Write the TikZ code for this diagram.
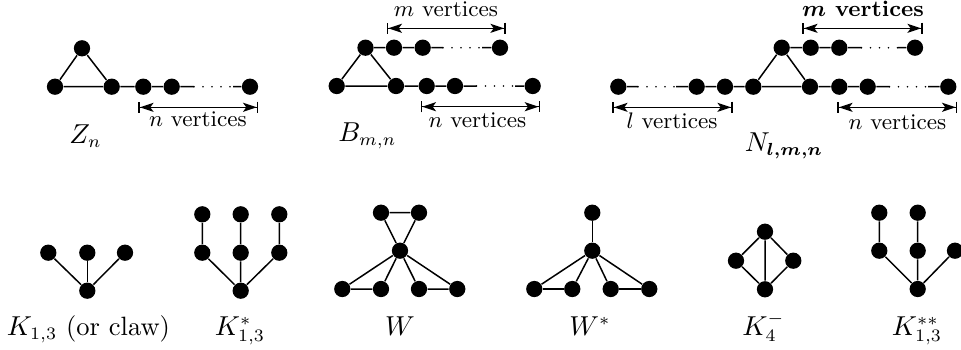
\documentclass[tikz,border=0pt]{standalone}
\usepackage{tikz}
\usetikzlibrary{arrows.meta,positioning,calc}
\usepackage{amsmath,bm}

\tikzset{
  vtx/.style={circle, fill=black, inner sep=0pt, minimum size=6.5pt},
  edge/.style={line width=0.6pt},
  gap/.style={line width=0.7pt, line cap=round, dash pattern=on 0pt off 3.6pt},
  span/.style={line width=0.6pt, {Bar[width=4.5pt]Stealth[length=5.5pt,width=3.6pt,inset=1.3pt]}-{Stealth[length=5.5pt,width=3.6pt,inset=1.3pt]Bar[width=4.5pt]}},
  cnt/.style={font=\small, anchor=base, inner sep=0pt},
  gname/.style={font=\fontsize{10.6}{12}\selectfont, anchor=base, inner sep=0pt}
}

\begin{document}
\begin{tikzpicture}[x=0.4pt, y=-0.4pt]
  \useasboundingbox (0,0) rectangle (961,349);

  % Z_n
  \foreach \nm/\xx/\yy in {z1/55/86.7, z2/82/48.3, z3/111.7/86.7, z4/143.3/86.7, z5/171.7/86.7, z6/250/86.7}
    \node[vtx] (\nm) at (\xx,\yy) {};
  \coordinate (zg1) at (194,86.7);
  \coordinate (zg2) at (233,86.7);
  \draw[edge] (z1) -- (z2) -- (z3) -- (z1) (z3) -- (z4) -- (z5) -- (zg1) (zg2) -- (z6);
  \draw[gap] (zg1) -- (zg2);
  \coordinate (za) at (138.3,107.3);
  \coordinate (zb) at (258.3,107.3);
  \draw[span] (za) -- (zb);
  \node[cnt] (zcnt) at (198,126) {$n$ vertices};
  \node[gname] (zname) at (85.5,143) {$Z_n$};

  % B_{m,n}
  \foreach \nm/\xx/\yy in {b1/336.7/86, b2/365.5/47.7, b3/396/86, b4/394/47.7, b5/422.7/47.7, b6/500/47.7,
                           b7/426.7/86, b8/455/86, b9/532.7/86}
    \node[vtx] (\nm) at (\xx,\yy) {};
  \coordinate (bg1) at (443,47.7);
  \coordinate (bg2) at (482,47.7);
  \coordinate (bg3) at (476.5,86);
  \coordinate (bg4) at (515,86);
  \draw[edge] (b1) -- (b2) -- (b3) -- (b1) (b2) -- (b4) -- (b5) -- (bg1) (bg2) -- (b6)
              (b3) -- (b7) -- (b8) -- (bg3) (bg4) -- (b9);
  \draw[gap] (bg1) -- (bg2) (bg3) -- (bg4);
  \coordinate (ba) at (386.7,28.3);
  \coordinate (bb) at (505.7,28.3);
  \coordinate (bc) at (420.7,106.7);
  \coordinate (bd) at (540,106.7);
  \draw[span] (ba) -- (bb);
  \draw[span] (bc) -- (bd);
  \node[cnt] (bmcnt) at (446,16.5) {$m$ vertices};
  \node[cnt] (bncnt) at (477.5,127.5) {$n$ vertices};
  \node[gname] (bname) at (367.5,141.5) {$B_{m,n}$};

  % N_{l,m,n}
  \foreach \nm/\xx/\yy in {l1/618.3/86.7, l2/696.7/86.7, l3/725/86.7, t1/753.3/86.7, t2/781.7/47.7, t3/810/86.7,
                           r1/839.3/86.7, r2/867.7/86.7, r3/948.3/86.7, u1/810.7/47.7, u2/839.3/47.7, u3/915/47.7}
    \node[vtx] (\nm) at (\xx,\yy) {};
  \coordinate (ng1) at (638,86.7);
  \coordinate (ng2) at (676,86.7);
  \coordinate (ng3) at (889.5,86.7);
  \coordinate (ng4) at (928,86.7);
  \coordinate (ng5) at (861.5,47.7);
  \coordinate (ng6) at (898,47.7);
  \draw[edge] (l1) -- (ng1) (ng2) -- (l2) -- (l3) -- (t1) -- (t2) -- (t3) -- (t1)
              (t3) -- (r1) -- (r2) -- (ng3) (ng4) -- (r3)
              (t2) -- (u1) -- (u2) -- (ng5) (ng6) -- (u3);
  \draw[gap] (ng1) -- (ng2) (ng3) -- (ng4) (ng5) -- (ng6);
  \coordinate (na) at (802.3,28.3);
  \coordinate (nb) at (922.7,28.3);
  \coordinate (nc) at (612.3,107.3);
  \coordinate (nd) at (732.7,107.3);
  \coordinate (ne) at (837.3,107.3);
  \coordinate (nf) at (957.3,107.3);
  \draw[span] (na) -- (nb);
  \draw[span] (nc) -- (nd);
  \draw[span] (ne) -- (nf);
  \node[cnt] (nmcnt) at (863,16.5) {\textbf{$\bm{m}$ vertices}};
  \node[cnt] (nlcnt) at (672,128.3) {$l$ vertices};
  \node[cnt] (nncnt) at (897.5,129) {$n$ vertices};
  \node[gname] (nname) at (784,151.5) {$N_{\bm{l,m,n}}$};

  % K_{1,3}
  \foreach \nm/\xx/\yy in {k0/87.3/290.7, k1/48.3/252.7, k2/87.3/252.7, k3/125/252.7}
    \node[vtx] (\nm) at (\xx,\yy) {};
  \foreach \nm in {k1,k2,k3}
    \draw[edge] (k0) -- (\nm);
  \node[gname] (kname) at (88.5,335) {$K_{1,3}$ (or claw)};

  % K_{1,3}^*
  \foreach \nm/\xx/\yy in {s0/240.7/290.7, s1/202.3/252.7, s2/240.7/252.7, s3/279.3/252.7,
                           s4/202.3/214.3, s5/240.7/214.3, s6/279.3/214.3}
    \node[vtx] (\nm) at (\xx,\yy) {};
  \draw[edge] (s0) -- (s1) -- (s4) (s0) -- (s2) -- (s5) (s0) -- (s3) -- (s6);
  \node[gname] (sname) at (240,335) {$K^*_{1,3}$};

  % W
  \foreach \nm/\xx/\yy in {w0/400/250.7, w1/381/212.7, w2/419/212.7,
                           w3/342.3/289, w4/381/289, w5/419/289, w6/457.3/289}
    \node[vtx] (\nm) at (\xx,\yy) {};
  \draw[edge] (w0) -- (w1) -- (w2) -- (w0) (w3) -- (w4) (w5) -- (w6);
  \foreach \nm in {w3,w4,w5,w6}
    \draw[edge] (w0) -- (\nm);
  \node[gname] (wname) at (400,335) {$W$};

  % W^*
  \foreach \nm/\xx/\yy in {v0/592.3/250.7, v1/592.3/212.7,
                           v3/534.3/289, v4/572.3/289, v5/610.7/289, v6/649.3/289}
    \node[vtx] (\nm) at (\xx,\yy) {};
  \draw[edge] (v0) -- (v1) (v3) -- (v4) (v5) -- (v6);
  \foreach \nm in {v3,v4,v5,v6}
    \draw[edge] (v0) -- (\nm);
  \node[gname] (vname) at (590,335) {$W^*$};

  % K_4^-
  \foreach \nm/\xx/\yy in {d1/765/231.7, d2/736/260.7, d3/793.3/260.7, d4/765/289.3}
    \node[vtx] (\nm) at (\xx,\yy) {};
  \draw[edge] (d1) -- (d2) -- (d4) -- (d3) -- (d1) -- (d4);
  \node[gname] (dname) at (763.5,335) {$K_4^-$};

  % K_{1,3}^{**}
  \foreach \nm/\xx/\yy in {p0/917.7/289, p1/879.3/250.7, p2/917.7/250.7, p3/955/250.7,
                           p4/879.3/212.7, p5/917.7/212.7}
    \node[vtx] (\nm) at (\xx,\yy) {};
  \draw[edge] (p0) -- (p1) -- (p4) (p0) -- (p2) -- (p5) (p0) -- (p3);
  \node[gname] (pname) at (917,335) {$K^{**}_{1,3}$};
\end{tikzpicture}
\end{document}
